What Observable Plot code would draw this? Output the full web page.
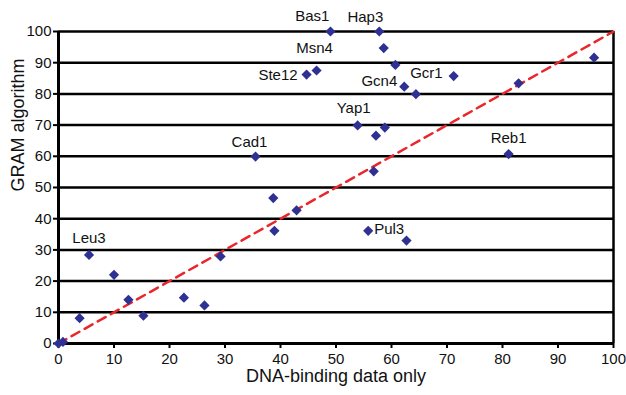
<!DOCTYPE html>
<html>
<head>
<meta charset="utf-8">
<script src="https://cdn.jsdelivr.net/npm/d3@7"></script>
<script src="https://cdn.jsdelivr.net/npm/@observablehq/plot@0.6"></script>
<style>
  html, body { margin: 0; padding: 0; background: #fff; }
  #chart { width: 626px; height: 395px; }
</style>
</head>
<body>
<div id="chart"></div>
<script>
// Data
const names = ["", "", "Leu3", "", "", "", "", "", "", "", "", "", "",
  "Cad1", "Ste12", "Msn4", "Bas1", "Hap3", "", "", "Gcn4", "", "Gcr1", "", "",
  "Yap1", "", "", "Reb1", "", "Pul3", ""];
const xs = [0, 0.8, 5.5, 3.8, 10.0, 12.6, 15.3, 22.6, 26.3, 29.2, 38.7, 38.9, 42.9,
  35.5, 44.7, 46.5, 49.0, 57.8, 58.6, 60.7, 62.3, 64.4, 71.2, 82.9, 96.5,
  53.9, 58.8, 57.2, 81.1, 56.8, 55.8, 62.7];
const ys = [0, 0.5, 28.4, 8.1, 22.0, 14.0, 8.9, 14.7, 12.2, 27.9, 46.6, 36.1, 42.7,
  59.9, 86.2, 87.5, 100, 100, 94.7, 89.3, 82.3, 79.9, 85.7, 83.4, 91.6,
  69.9, 69.2, 66.6, 60.7, 55.2, 36.1, 33.0];
const diagonal = [0, 100];
const yTicks = [0, 10, 20, 30, 40, 50, 60, 70, 80, 90, 100];
const xTicks = [0, 10, 20, 30, 40, 50, 60, 70, 80, 90, 100];
const xTitle = "DNA-binding data only";
const yTitle = "GRAM algorithm";

const points = xs.map((x, i) => ({name: names[i], x, y: ys[i]}));

// label placement (style, not data)
const labelPlacement = {
  Bas1: {anchor: "end", dx: -1, dy: -15},
  Hap3: {anchor: "end", dx: 4, dy: -14},
  Msn4: {anchor: "middle", dx: -2, dy: -22},
  Ste12: {anchor: "end", dx: -9, dy: 1},
  Gcn4: {anchor: "end", dx: -7, dy: -6},
  Gcr1: {anchor: "end", dx: -11, dy: -3},
  Yap1: {anchor: "middle", dx: -4, dy: -17},
  Cad1: {anchor: "middle", dx: -6, dy: -14},
  Reb1: {anchor: "middle", dx: 0, dy: -16},
  Leu3: {anchor: "middle", dx: 0, dy: -17},
  Pul3: {anchor: "start", dx: 6, dy: -2}
};

const font = "'Liberation Sans', Arial, Helvetica, sans-serif";
const navy = "#2e3192";
const red = "#e8262b";

const labelMarks = Object.entries(labelPlacement).map(([n, p]) =>
  Plot.text(points.filter(d => d.name === n), {
    x: "x", y: "y", text: "name",
    textAnchor: p.anchor, dx: p.dx, dy: p.dy,
    fontSize: 15, fill: "#111"
  })
);

const chart = Plot.plot({
  width: 626,
  height: 395,
  marginTop: 31,
  marginRight: 13,
  marginBottom: 52,
  marginLeft: 58,
  style: {fontFamily: font, background: "#fff", overflow: "visible"},
  x: {domain: [0, 100]},
  y: {domain: [0, 100]},
  marks: [
    Plot.ruleY(yTicks.filter(d => d > 0), {stroke: "#000", strokeWidth: 2.5}),
    Plot.ruleX([100], {stroke: "#000", strokeWidth: 2.5}),
    Plot.line(diagonal.map(v => ({x: v, y: v})), {
      x: "x", y: "y", stroke: red, strokeWidth: 2.5, strokeDasharray: "9,6"
    }),
    Plot.ruleX([0], {stroke: "#000", strokeWidth: 3}),
    Plot.ruleY([0], {stroke: "#000", strokeWidth: 3}),
    Plot.axisY(yTicks, {
      ticks: yTicks, tickSize: 5, tickPadding: 2, fontSize: 15,
      stroke: "#000", strokeWidth: 2, fill: "#111", label: null
    }),
    Plot.axisX(xTicks, {
      ticks: xTicks, tickSize: 5, tickPadding: 5, fontSize: 15,
      stroke: "#000", strokeWidth: 2, fill: "#111", label: null
    }),
    Plot.dot(points, {
      x: "x", y: "y", symbol: "diamond2", r: 4.6, fill: navy, stroke: "none"
    }),
    ...labelMarks,
    Plot.text([xTitle], {frameAnchor: "bottom", dy: 38, fontSize: 18, fill: "#111"}),
    Plot.text([yTitle], {frameAnchor: "left", dx: -40, dy: 4, rotate: -90, fontSize: 18, fill: "#111"})
  ]
});

document.getElementById("chart").appendChild(chart);
</script>
</body>
</html>
